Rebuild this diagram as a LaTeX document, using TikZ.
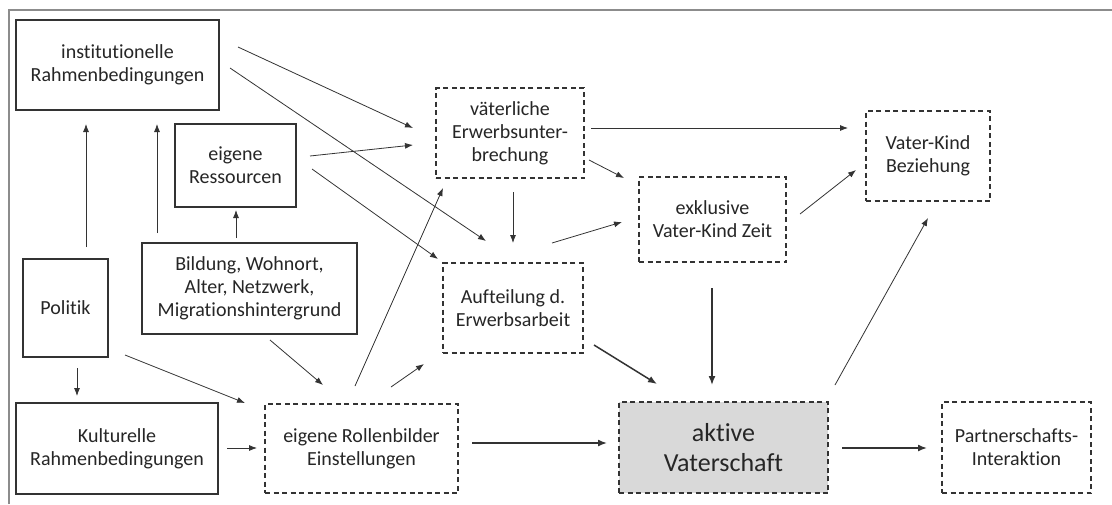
\documentclass[tikz,border=0pt]{standalone}
\usepackage{fontspec}
\setmainfont{Carlito}[Ligatures={NoCommon,NoRare}]
\usetikzlibrary{calc,arrows.meta}
\definecolor{txt}{HTML}{262626}
\definecolor{ln}{HTML}{333333}
\definecolor{frm}{HTML}{8C8C8C}
\definecolor{akt}{HTML}{D9D9D9}
\begin{document}
\begin{tikzpicture}[x=1pt,y=-1pt,
  base/.style={rectangle, outer sep=0pt, inner sep=2pt, align=center, text=txt,
    font=\fontsize{20}{23}\selectfont},
  solidbox/.style={base, draw=ln, line width=1.4pt},
  dashbox/.style={base, draw=ln, line width=1.5pt, dash pattern=on 5pt off 3.5pt},
  arr/.style={draw=ln, line width=0.8pt, -{Latex[length=8pt,width=6pt]}},
  tarr/.style={draw=ln, line width=1.5pt, -{Latex[length=9pt,width=7pt]}}
]
\useasboundingbox (0,0) rectangle (1112,504);
\fill[white] (0,0) rectangle (1112,504);
% frame
\draw[frm, line width=2pt] (9,504) -- (9,10) -- (1112,10);

% nodes
\node[solidbox, minimum width=203pt, minimum height=90pt] (inst) at (117.5,65) {institutionelle\\Rahmenbedingungen};
\node[solidbox, minimum width=121pt, minimum height=83pt] (ress) at (235.5,165.5) {eigene\\Ressourcen};
\node[solidbox, minimum width=85pt, minimum height=98pt] (pol) at (65.5,308) {Politik};
\node[solidbox, minimum width=215pt, minimum height=91pt] (bild) at (249.5,288.5) {Bildung, Wohnort,\\Alter, Netzwerk,\\Migrationshintergrund};
\node[solidbox, minimum width=202pt, minimum height=91pt] (kult) at (117,448.5) {Kulturelle\\Rahmenbedingungen};
\node[dashbox, minimum width=193pt, minimum height=89pt] (roll) at (361.5,448.5) {eigene Rollenbilder\\Einstellungen};
\node[dashbox, minimum width=148pt, minimum height=90pt] (vat) at (510,133) {väterliche\\Erwerbsunter-\\brechung};
\node[dashbox, minimum width=147pt, minimum height=85pt] (exkl) at (712.5,219.5) {exklusive\\Vater-Kind Zeit};
\node[dashbox, minimum width=140pt, minimum height=90pt] (auft) at (513,308) {Aufteilung d.\\Erwerbsarbeit};
\node[dashbox, minimum width=124pt, minimum height=90pt] (vk) at (928,156) {Vater-Kind\\Beziehung};
\node[dashbox, fill=akt, minimum width=209pt, minimum height=91pt, font=\fontsize{26}{30}\selectfont] (akt) at (723.5,447.5) {aktive\\Vaterschaft};
\node[dashbox, minimum width=149pt, minimum height=91pt] (part) at (1016.5,447.5) {Partnerschafts-\\Interaktion};

% connectors
\draw[arr] ($(inst.east)+(19,-18)$) -- ($(vat.west)+(-23,-5)$);
\draw[arr] ($(inst.east)+(11,3)$) -- ($(auft.north)+(-27,-22)$);
\draw[arr] ($(ress.east)+(14,-9.5)$) -- ($(vat.west)+(-23,12)$);
\draw[arr] ($(ress.east)+(16,3.5)$) -- ($(auft.north west)+(-5,-4)$);
\draw[arr] ($(pol.north)+(20.5,-12)$) -- ($(inst.south)+(-31.5,14)$);
\draw[arr] ($(bild.north west)+(15,-10)$) -- ($(inst.south)+(39.5,14)$);
\draw[arr] ($(bild.north)+(-13.5,-5)$) -- ($(ress.south)+(0.5,3)$);
\draw[arr] ($(pol.south)+(11.5,11)$) -- ($(kult.north)+(-40,-7)$);
\draw[arr] ($(pol.south east)+(17,-2)$) -- ($(roll.north west)+(-20,-1)$);
\draw[arr] ($(bild.south)+(20.5,6)$) -- ($(roll.north)+(-38.5,-19)$);
\draw[arr] ($(kult.east)+(9,-0.5)$) -- ($(roll.west)+(-8,-0.5)$);
\draw[arr] ($(roll.north)+(-6.5,-18)$) -- ($(vat.south west)+(7,10)$);
\draw[arr] ($(roll.north)+(29.5,-17)$) -- ($(auft.south west)+(-19,11)$);
\draw[tarr] ($(roll.east)+(14,-5.5)$) -- ($(akt.west)+(-12,-4.5)$);
\draw[arr] ($(vat.south)+(3,14)$) -- ($(auft.north)+(0,-20)$);
\draw[arr] ($(vat.east)+(5,27)$) -- ($(exkl.north west)+(-15,1)$);
\draw[arr] ($(vat.east)+(7,-5)$) -- ($(vk.west)+(-18,-28)$);
\draw[arr] ($(auft.north)+(39,-20)$) -- ($(exkl.west)+(-17,2.5)$);
\draw[arr] ($(exkl.east)+(14,-5.5)$) -- ($(vk.west)+(-10,14)$);
\draw[tarr] ($(auft.south east)+(11,-8)$) -- ($(akt.north)+(-66.5,-18)$);
\draw[tarr] ($(exkl.south)+(-0.5,26)$) -- ($(akt.north)+(-11.5,-17)$);
\draw[arr] ($(akt.north east)+(7,-17)$) -- ($(vk.south)+(0,17)$);
\draw[tarr] ($(akt.east)+(14,0.5)$) -- ($(part.west)+(-15,0.5)$);
\end{tikzpicture}
\end{document}
